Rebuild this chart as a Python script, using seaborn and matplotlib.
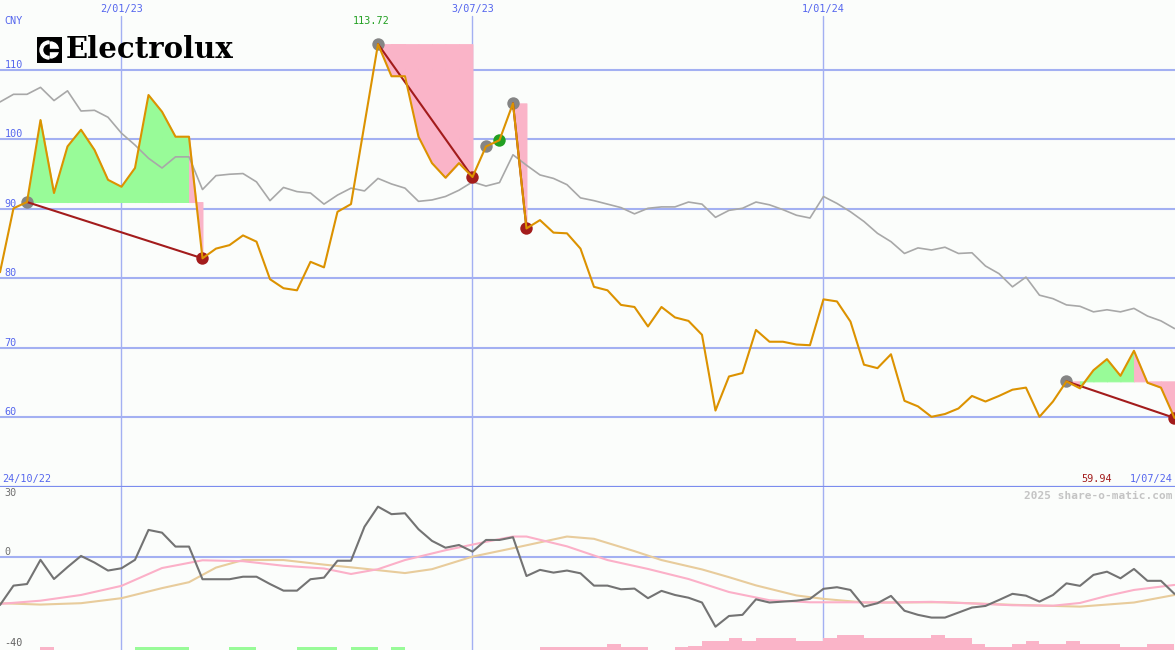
import numpy as np
import seaborn as sns
import matplotlib.pyplot as plt
from matplotlib.patches import Rectangle, Wedge

sns.set_style('white')
plt.rcParams['font.family'] = ['DejaVu Sans Mono']

# weekly closing price (CNY)
price = [80.9, 90.1, 91.0, 102.8, 92.3, 99.0, 101.4, 98.5, 94.2, 93.2,
         95.9, 106.4, 104.0, 100.4, 100.4, 82.9, 84.3, 84.8, 86.2, 85.3,
         79.9, 78.6, 78.3, 82.4, 81.6, 89.6, 90.7, 102.2, 113.72, 109.1,
         109.1, 100.4, 96.6, 94.5, 96.6, 94.6, 99.0, 99.9, 105.2, 87.2,
         88.4, 86.6, 86.5, 84.3, 78.8, 78.3, 76.2, 75.9, 73.1, 75.9,
         74.4, 73.9, 71.9, 61.0, 65.9, 66.4, 72.6, 70.9, 70.9, 70.5,
         70.4, 77.0, 76.7, 73.8, 67.6, 67.1, 69.1, 62.4, 61.6, 60.1,
         60.5, 61.3, 63.1, 62.3, 63.1, 64.0, 64.3, 60.1, 62.3, 65.2,
         64.2, 66.8, 68.4, 66.0, 69.6, 65.0, 64.3, 59.94]
# market index rescaled to the price
index_line = [105.4, 106.5, 106.5, 107.5, 105.6, 107.0, 104.1, 104.2, 103.2, 100.9,
              99.2, 97.3, 95.9, 97.5, 97.5, 92.8, 94.8, 95.0, 95.1, 93.9,
              91.2, 93.1, 92.5, 92.3, 90.7, 92.0, 93.0, 92.6, 94.4, 93.6,
              93.0, 91.1, 91.3, 91.8, 92.7, 93.9, 93.3, 93.8, 97.8, 96.3,
              94.9, 94.4, 93.5, 91.6, 91.2, 90.7, 90.2, 89.3, 90.1, 90.3,
              90.3, 91.0, 90.7, 88.8, 89.8, 90.1, 91.0, 90.6, 89.9, 89.1,
              88.7, 91.8, 90.8, 89.6, 88.2, 86.5, 85.3, 83.6, 84.4, 84.1,
              84.5, 83.6, 83.7, 81.8, 80.7, 78.8, 80.2, 77.6, 77.1, 76.2,
              76.0, 75.2, 75.5, 75.2, 75.7, 74.6, 73.9, 72.8]
# momentum oscillator
momentum = [-21.2, -12.7, -12.0, -1.4, -9.8, -4.6, 0.3, -2.6, -6.1, -5.1,
            -1.4, 11.7, 10.5, 4.4, 4.4, -9.9, -9.9, -9.9, -8.8, -8.8,
            -12.0, -14.9, -14.9, -9.9, -9.2, -1.8, -1.8, 13.1, 21.9, 18.6,
            19.0, 12.0, 6.9, 3.9, 5.1, 2.2, 7.3, 7.3, 8.5, -8.5,
            -5.8, -7.0, -6.1, -7.3, -12.7, -12.7, -14.3, -14.0, -18.2, -15.0,
            -16.8, -18.0, -20.1, -30.7, -26.0, -25.5, -18.7, -20.1, -19.7, -19.3,
            -18.5, -14.1, -13.4, -14.6, -21.9, -20.4, -17.2, -23.7, -25.5, -26.7,
            -26.7, -24.5, -22.3, -21.6, -19.0, -16.3, -17.1, -19.7, -16.8, -11.7,
            -12.8, -8.0, -6.6, -9.5, -5.4, -10.6, -10.6, -16.3]
ma_fast_x = [0, 3, 6, 9, 12, 15, 18, 21, 24, 26, 28, 30, 33, 36, 38, 39, 42, 45, 48,
             51, 54, 57, 60, 63, 66, 69, 72, 75, 78, 80, 82, 84, 87]
ma_fast = [-20.7, -19.3, -16.8, -12.8, -5.0, -1.6, -2.0, -4.0, -5.2, -7.6, -5.5, -1.5,
           2.8, 6.5, 8.8, 8.8, 4.5, -1.5, -5.4, -9.8, -15.5, -19.1, -20.0, -20.0,
           -20.1, -19.8, -20.5, -21.3, -21.5, -20.3, -17.2, -14.6, -12.4]
ma_slow_x = [0, 3, 6, 9, 12, 14, 16, 18, 21, 24, 27, 30, 32, 35, 38, 42, 44, 47, 49,
             52, 54, 56, 59, 61, 64, 70, 75, 80, 84, 87]
ma_slow = [-20.4, -21.0, -20.4, -18.2, -13.8, -11.2, -4.8, -1.5, -1.5, -3.5, -5.3,
           -7.2, -5.5, 0.0, 3.7, 8.8, 7.8, 2.4, -1.5, -5.6, -9.0, -12.6, -17.0, -18.5,
           -20.1, -20.0, -21.1, -21.9, -20.1, -16.8]
# signal strength bars: >0 bullish, <0 bearish
signal_bars = [0, 0, 0, -1, 0, 0, 0, 0, 0, 0, 1, 1, 1, 1, 0, 0, 0, 1, 1, 0,
               0, 0, 1, 1, 1, 0, 1, 1, 0, 1, 0, 0, 0, 0, 0, 0, 0, 0, 0, 0,
               -1, -1, -1, -1, -1, -2, -1, -1, 0, 0, -1, -1.3, -3, -3, -4, -3, -4, -4, -4, -3,
               -3, -4, -5, -5, -4, -4, -4, -4, -4, -5, -4, -4, -2, -1, -1, -2, -3, -2, -2, -3,
               -2, -2, -2, -1, -1, -2, -2, 0]

entries = [2, 28, 38, 79]
exits = [15, 35, 39, 87]
watch_points = [36]
buy_points = [37]
price_ticks = [110, 100, 90, 80, 70, 60]
date_pos = [9, 35, 61]
date_labels = ['2/01/23', '3/07/23', '1/01/24']

bg = '#fbfdfb'
grid = '#a3b0f2'
blue = '#5566ee'
orange = '#dc9200'
pink = '#fab4c8'
green = '#98fb98'
darkred = '#a31c1c'

weeks = np.arange(len(price))
p = np.array(price)

fig = plt.figure(figsize=(11.75, 6.5), dpi=100, facecolor=bg)
ax = fig.add_axes([0, 163 / 650, 1, 487 / 650])
ax2 = fig.add_axes([0, 0, 1, 163 / 650])
for a in (ax, ax2):
    a.set_facecolor(bg)
    a.set_xlim(0, 87.04)
    a.set_xticks([])
    a.set_yticks([])
    for s in a.spines.values():
        s.set_visible(False)

ax.set_ylim(50, 120.07)
ax2.set_ylim(-40.9, 30.5)

# grid
for v in price_ticks:
    ax.axhline(v, color=grid, lw=1.5, zorder=1)
    ax.text(0.004, v, str(v), transform=ax.get_yaxis_transform(), color=blue,
            fontsize=7.3, va='bottom', ha='left')
for x, lab in zip(date_pos, date_labels):
    ax.axvline(x, ymax=1 - 16 / 487, color=grid, lw=1.0, zorder=1)
    ax2.axvline(x, color=grid, lw=1.0, zorder=1)
    ax.text(x, 1 - 4 / 487, lab, transform=ax.get_xaxis_transform(), color=blue,
            fontsize=7.3, va='top', ha='center')
ax.axhline(50, color='#7b8cee', lw=1.6, zorder=1)
ax2.axhline(0, color=grid, lw=1.5, zorder=1)

# trade fills, one segment at a time, coloured by where the segment ends
for e, x in zip(entries, exits):
    base = p[e]
    for i in range(e, x):
        col = green if p[i + 1] >= base else pink
        ax.fill_between(weeks[i:i + 2], base, p[i:i + 2], facecolor=col,
                        edgecolor=col, lw=0.7, zorder=2)

sns.lineplot(x=weeks, y=index_line, ax=ax, color='#a8a8a8', lw=1.2, zorder=3)

# markers
ax.scatter(weeks[entries + watch_points], p[entries + watch_points], s=80,
           color='#858585', zorder=4, lw=0)
ax.scatter(weeks[exits], p[exits], s=80, color=darkred, zorder=4, lw=0)
ax.scatter(weeks[buy_points], p[buy_points], s=80, color='#22a022', zorder=4, lw=0)
for e, x in zip(entries, exits):
    ax.plot([e, x], [p[e], p[x]], color=darkred, lw=1.5, zorder=5)

sns.lineplot(x=weeks, y=price, ax=ax, color=orange, lw=1.5, zorder=6)

top = int(np.argmax(p))
ax.annotate(f'{price[top]:.2f}', (top, 1 - 16 / 487), xycoords=ax.get_xaxis_transform(),
            xytext=(-7, 0), textcoords='offset pixels', color='#22a022',
            fontsize=7.3, va='top', ha='center')
ax.text(0.004, 1 - 16 / 487, 'CNY', transform=ax.transAxes, color=blue,
        fontsize=7.3, va='top', ha='left')
ax.text(0.002, 3 / 487, '24/10/22', transform=ax.transAxes, color=blue,
        fontsize=7.3, va='bottom', ha='left')
ax.text(1 - 2 / 1175, 3 / 487, '1/07/24', transform=ax.transAxes, color=blue,
        fontsize=7.3, va='bottom', ha='right')
ax.text(1112 / 1175, 3 / 487, f'{price[-1]:.2f}', transform=ax.transAxes, color=darkred,
        fontsize=7.3, va='bottom', ha='right')

# logo
ax.text(66 / 1175, 1 - 50 / 487, 'Electrolux', transform=ax.transAxes,
        family='DejaVu Serif', fontweight='bold', fontsize=21, va='center',
        ha='left', color='black')
lax = fig.add_axes([37 / 1175, 1 - 63 / 650, 25 / 1175, 26 / 650])
lax.set_xlim(0, 25)
lax.set_ylim(0, 26)
lax.axis('off')
lax.add_patch(Rectangle((0, 0), 25, 26, color='black'))
lax.add_patch(Wedge((12, 13), 9, 90, 270, width=2.6, color='white'))
lax.add_patch(Wedge((13.5, 13), 8, -90, 90, color='white'))
lax.add_patch(Rectangle((10.5, 11.8), 11, 2.4, color='black'))

# lower panel
tax = ax2.twinx()
tax.set_ylim(0, 163 / 3)
tax.set_yticks([])
for s in tax.spines.values():
    s.set_visible(False)
sb = np.array(signal_bars)
tax.bar(weeks, np.abs(sb), width=1, align='edge',
        color=[green if v > 0 else pink for v in sb], lw=0)

sns.lineplot(x=ma_slow_x, y=ma_slow, ax=ax2, color='#e8cc9c', lw=1.5, zorder=3)
sns.lineplot(x=ma_fast_x, y=ma_fast, ax=ax2, color='#fbb0c8', lw=1.5, zorder=3)
sns.lineplot(x=weeks, y=momentum, ax=ax2, color='#737373', lw=1.5, zorder=4)

ax2.text(0.004, 30, '30', transform=ax2.get_yaxis_transform(), color='#707070',
         fontsize=7.3, va='top', ha='left')
ax2.text(0.004, 0, '0', transform=ax2.get_yaxis_transform(), color='#707070',
         fontsize=7.3, va='bottom', ha='left')
ax2.text(0.004, -40, '-40', transform=ax2.get_yaxis_transform(), color='#606060',
         fontsize=7.3, va='bottom', ha='left')
ax2.text(1 - 2 / 1175, 1 - 4 / 163, '2025 share-o-matic.com', transform=ax2.transAxes,
         color='#c4c4c4', fontsize=8, fontweight='bold', va='top', ha='right')

fig.savefig('out.png', dpi=100, facecolor=bg)
